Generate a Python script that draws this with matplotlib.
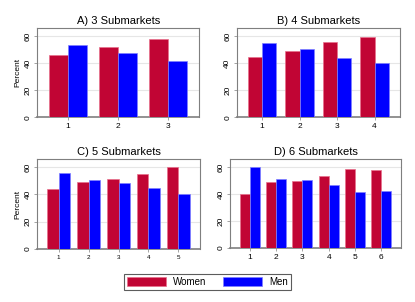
import matplotlib
matplotlib.use("Agg")
import matplotlib.pyplot as plt
import numpy as np
from matplotlib.patches import Patch

plt.rcParams['font.family'] = ['Liberation Sans', 'DejaVu Sans']

# Share of women / men (percent) per submarket
titles = ['A) 3 Submarkets', 'B) 4 Submarkets', 'C) 5 Submarkets', 'D) 6 Submarkets']
women = [
    [46.4, 52.4, 58.1],
    [45.0, 49.2, 55.7, 59.7],
    [44.3, 49.2, 51.6, 55.0, 59.8],
    [39.9, 48.7, 49.8, 53.5, 58.5, 57.8],
]
men = [
    [53.6, 47.6, 41.9],
    [55.0, 50.8, 44.3, 40.3],
    [55.7, 50.8, 48.4, 45.0, 40.2],
    [60.1, 51.3, 50.2, 46.5, 41.5, 42.2],
]
yticks = [0, 20, 40, 60]

women_color = '#c10534'
men_color = '#0000ff'

# axes boxes in pixels (left, top, right, bottom) on a 415x302 canvas
W, H = 415, 302
boxes = [(37, 28.3, 199.3, 117.3), (236.7, 28.3, 400, 117.3),
         (37, 159, 200, 249), (230.3, 159, 400.7, 248)]
margins = [0.24, 0.30, 0.345, 0.363]
bar_w = 0.38

fig = plt.figure(figsize=(W / 100, H / 100), dpi=100)

for i in range(4):
    l, t, r, b = boxes[i]
    ax = fig.add_axes([l / W, 1 - b / H, (r - l) / W, (b - t) / H])
    n = len(women[i])
    x = np.arange(1, n + 1)
    ax.bar(x - bar_w / 2, women[i], bar_w, color=women_color,
           edgecolor='#e8708c', linewidth=0.5, zorder=3)
    ax.bar(x + bar_w / 2, men[i], bar_w, color=men_color,
           edgecolor='#8080ff', linewidth=0.5, zorder=3)
    ax.set_xlim(1 - bar_w - margins[i], n + bar_w + margins[i])
    ax.set_ylim(0, 66)
    ax.set_xticks(x)
    ax.set_xticklabels([str(v) for v in x], fontsize=4.5 if i == 2 else 6)
    ax.set_yticks(yticks)
    ax.set_yticklabels([str(v) for v in yticks], fontsize=6, rotation=90, va='center')
    ax.yaxis.grid(True, color='#e6e6e6', linewidth=0.8, zorder=0)
    ax.tick_params(length=2.5, width=0.5, color='#7f7f7f', pad=1.5)
    for s in ax.spines.values():
        s.set_color('#7f7f7f')
        s.set_linewidth(0.8)
    ax.spines['bottom'].set_linewidth(1.2)
    ax.set_title(titles[i], fontsize=8, pad=3)
    if i in (0, 2):
        ax.set_ylabel('Percent', fontsize=6, labelpad=2)

handles = [Patch(facecolor=women_color, edgecolor='#e8708c', linewidth=0.5),
           Patch(facecolor=men_color, edgecolor='#8080ff', linewidth=0.5)]
leg = fig.legend(handles, ['Women', 'Men'], loc='center', ncol=2,
                 bbox_to_anchor=(207.5 / W, 1 - 282 / H), fontsize=7,
                 handlelength=4.0, handleheight=1.0, handletextpad=0.7,
                 columnspacing=1.7, borderpad=0.35, fancybox=False)
leg.get_frame().set_edgecolor('#333333')
leg.get_frame().set_linewidth(0.8)

fig.savefig('out.png', dpi=100)
